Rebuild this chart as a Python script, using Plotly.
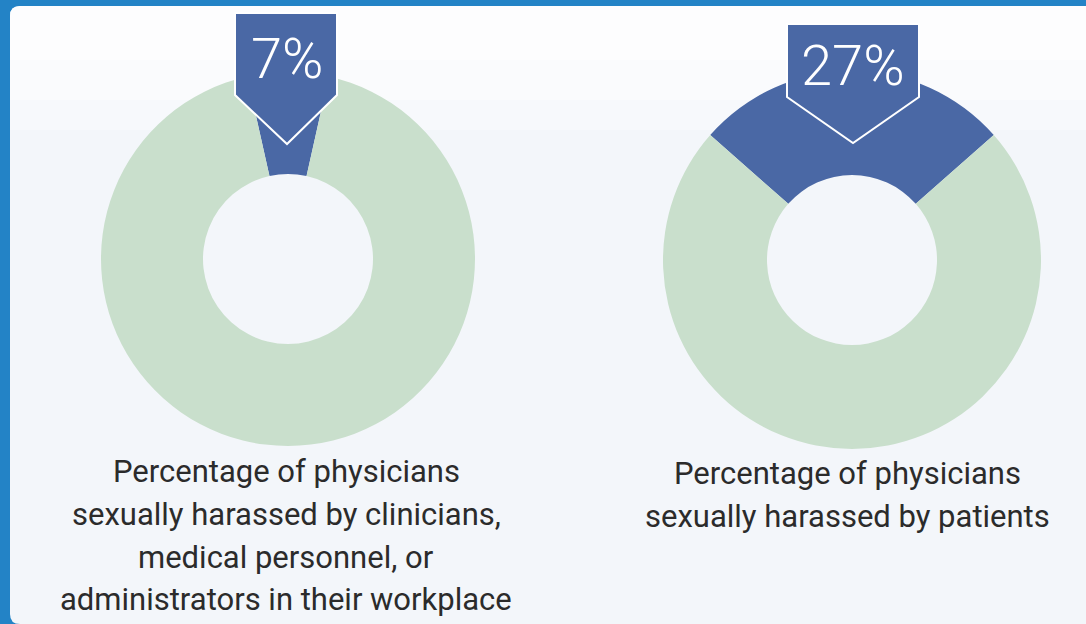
import plotly.graph_objects as go

W, H = 1086, 624

# ---- data ----
slice_labels = ["Harassed", "Not harassed"]
values_left = [7, 93]
values_right = [27, 73]
pct_labels = ["7%", "27%"]
caption_left = ["Percentage of physicians",
                "sexually harassed by clinicians,",
                "medical personnel, or",
                "administrators in their workplace"]
caption_right = ["Percentage of physicians",
                 "sexually harassed by patients"]

BLUE = "#4a68a5"
GREEN = "#c9dfcc"
FRAME = "#2383c6"
TEXT = "#2b2b2b"


def px(x):
    return x / W


def py(y):
    return 1 - y / H


fig = go.Figure()

# donut geometry (pixels): center x, center y, radius
donuts = [(288, 259, 187, values_left), (852, 260, 189, values_right)]
for cx, cy, r, vals in donuts:
    share = vals[0] / sum(vals)
    fig.add_trace(go.Pie(
        labels=slice_labels, values=vals, sort=False, direction="clockwise",
        rotation=-share * 360 / 2, hole=85 / r,
        marker=dict(colors=[BLUE, GREEN], line=dict(width=0)),
        textinfo="none", hoverinfo="label+value", showlegend=False,
        domain=dict(x=[px(cx - r), px(cx + r)], y=[py(cy + r), py(cy - r)]),
    ))

shapes = []
# panel with rounded left corners
rad = 10
x0, y0, x1, y1 = 10, 6, W + 2, H + 2


def panel_path(ytop, ybot, round_top, round_bot):
    p = []
    if round_top:
        p.append(f"M {px(x0)},{py(ytop + rad)} Q {px(x0)},{py(ytop)} {px(x0 + rad)},{py(ytop)}")
    else:
        p.append(f"M {px(x0)},{py(ytop)}")
    p.append(f"L {px(x1)},{py(ytop)} L {px(x1)},{py(ybot)}")
    if round_bot:
        p.append(f"L {px(x0 + rad)},{py(ybot)} Q {px(x0)},{py(ybot)} {px(x0)},{py(ybot - rad)}")
    else:
        p.append(f"L {px(x0)},{py(ybot)}")
    p.append("Z")
    return " ".join(p)


shapes.append(dict(type="path", xref="paper", yref="paper", layer="below",
                   path=panel_path(y0, 624, True, True), fillcolor="#f3f6fa",
                   line=dict(width=0)))
# lighter upper band (gradient approximation)
bands = [(6, 60, "#fdfdfe"), (60, 100, "#fafbfd"), (100, 130, "#f7f9fc")]
for i, (a, b, c) in enumerate(bands):
    shapes.append(dict(type="path", xref="paper", yref="paper", layer="below",
                       path=panel_path(a, b, i == 0, False), fillcolor=c,
                       line=dict(width=0)))

# callouts (pentagon markers pointing into the slices)
callouts = [(235, 337, 13, 95, 287, 144), (787, 919, 24, 97, 853, 143)]
for (l, rr, t, s, ax, ay) in callouts:
    path = (f"M {px(l)},{py(t)} L {px(rr)},{py(t)} L {px(rr)},{py(s)} "
            f"L {px(ax)},{py(ay)} L {px(l)},{py(s)} Z")
    shapes.append(dict(type="path", xref="paper", yref="paper", layer="above",
                       path=path, fillcolor=BLUE,
                       line=dict(color="white", width=2)))

annotations = []
pct_pos = [(287, 59), (853, 66)]
for lab, (x, y) in zip(pct_labels, pct_pos):
    annotations.append(dict(text=lab, x=px(x), y=py(y), xref="paper", yref="paper",
                            showarrow=False, xanchor="center", yanchor="middle",
                            font=dict(family="Roboto", size=56, color="white", weight=300)))

cap_left_y = [471, 514, 557, 599]
cap_right_y = [473, 516]
for txt, y in zip(caption_left, cap_left_y):
    annotations.append(dict(text=txt, x=px(286), y=py(y), xref="paper", yref="paper",
                            showarrow=False, xanchor="center", yanchor="middle",
                            font=dict(family="Roboto", size=31, color=TEXT)))
for txt, y in zip(caption_right, cap_right_y):
    annotations.append(dict(text=txt, x=px(847), y=py(y), xref="paper", yref="paper",
                            showarrow=False, xanchor="center", yanchor="middle",
                            font=dict(family="Roboto", size=31, color=TEXT)))

fig.update_layout(
    width=W, height=H, margin=dict(l=0, r=0, t=0, b=0),
    paper_bgcolor=FRAME, plot_bgcolor=FRAME,
    shapes=shapes, annotations=annotations,
)

fig.write_html("out.html", config={"displayModeBar": False},
               post_script="document.body.style.margin='0';document.body.style.padding='0';document.body.style.overflow='hidden';")
